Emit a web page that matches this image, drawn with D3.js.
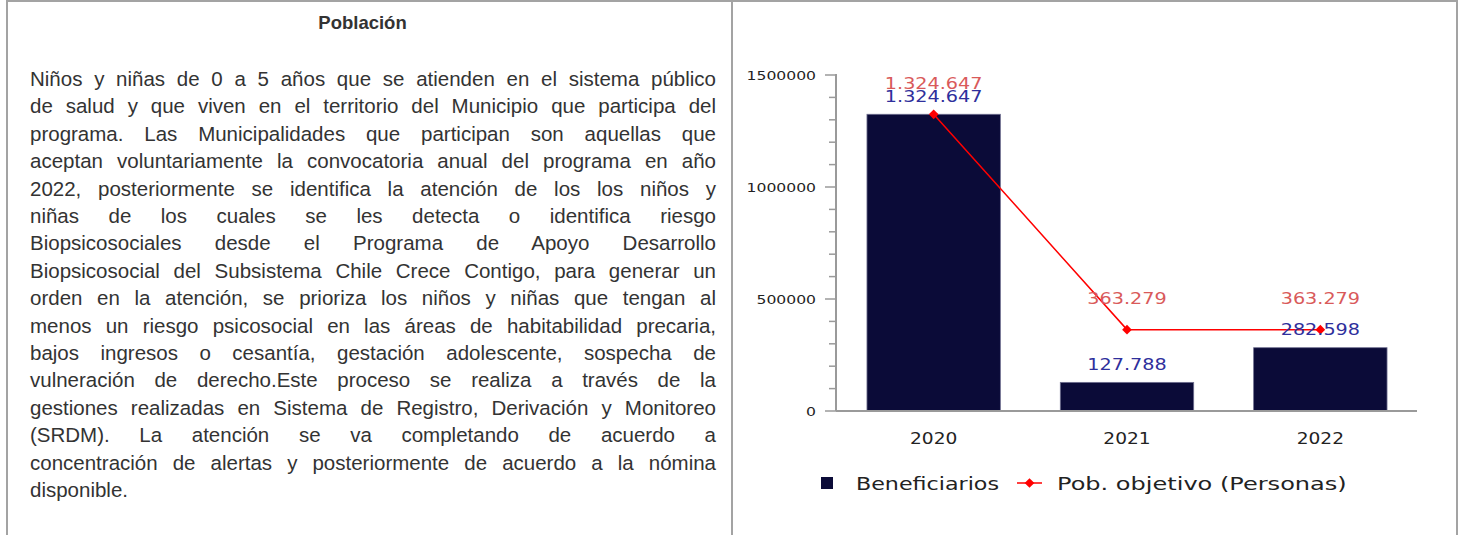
<!DOCTYPE html>
<html>
<head>
<meta charset="utf-8">
<script src="https://cdn.jsdelivr.net/npm/d3@7"></script>
<style>
  html, body { margin: 0; padding: 0; background: #fff; }
  body { width: 1460px; height: 535px; position: relative; overflow: hidden; }
  .rule { position: absolute; background: #a3a3a3; }
  #title { position: absolute; left: 0; width: 725px; top: 12px; text-align: center;
           font: bold 18.5px "Liberation Sans", Arial, sans-serif; color: #333; }
  #texto { position: absolute; left: 30px; width: 686px; top: 65px;
           font: 20.5px "Liberation Sans", Arial, sans-serif; color: #333; line-height: 27.4px; }
  #texto div { text-align: justify; text-align-last: justify; white-space: nowrap; }
  #texto div.last { text-align-last: left; }
  #chart { position: absolute; left: 0; top: 0; }
</style>
</head>
<body>
<div class="rule" style="left:6px;top:0;width:1452px;height:2px"></div>
<div class="rule" style="left:6px;top:0;width:2px;height:535px"></div>
<div class="rule" style="left:731px;top:0;width:2px;height:535px"></div>
<div class="rule" style="left:1456px;top:0;width:2px;height:535px"></div>
<div id="title">Población</div>
<div id="texto"></div>
<svg id="chart" width="1460" height="535"></svg>
<script>
// text lines of the left cell
const parrafo = [
  "Niños y niñas de 0 a 5 años que se atienden en el sistema público",
  "de salud y que viven en el territorio del Municipio que participa del",
  "programa. Las Municipalidades que participan son aquellas que",
  "aceptan voluntariamente la convocatoria anual del programa en año",
  "2022, posteriormente se identifica la atención de los los niños y",
  "niñas de los cuales se les detecta o identifica riesgo",
  "Biopsicosociales desde el Programa de Apoyo Desarrollo",
  "Biopsicosocial del Subsistema Chile Crece Contigo, para generar un",
  "orden en la atención, se prioriza los niños y niñas que tengan al",
  "menos un riesgo psicosocial en las áreas de habitabilidad precaria,",
  "bajos ingresos o cesantía, gestación adolescente, sospecha de",
  "vulneración de derecho.Este proceso se realiza a través de la",
  "gestiones realizadas en Sistema de Registro, Derivación y Monitoreo",
  "(SRDM). La atención se va completando de acuerdo a",
  "concentración de alertas y posteriormente de acuerdo a la nómina",
  "disponible."
];

// chart data
const years = ["2020", "2021", "2022"];
const beneficiarios = [1324647, 127788, 282598];
const pobObjetivo = [1324647, 363279, 363279];
const yMajor = [0, 500000, 1000000, 1500000];
const yMinor = d3.range(0, 1500001, 100000);
const legendItems = ["Beneficiarios", "Pob. objetivo (Personas)"];

d3.select("#texto").selectAll("div")
  .data(parrafo)
  .enter().append("div")
  .classed("last", (d, i) => i === parrafo.length - 1)
  .text(d => d);

const esCL = d3.formatLocale({ decimal: ",", thousands: ".", grouping: [3], currency: ["$", ""] });
const fmt = esCL.format(",d");

const barColor = "#0b0b38", lineColor = "#ff0000";
const blueText = "#2f2f9c", redText = "#d95a5a";
const axisColor = "#9a9a9a";
const font = "'DejaVu Sans', Verdana, sans-serif";

const svg = d3.select("#chart");

const x = d3.scaleBand()
  .domain(years)
  .range([837, 1417])
  .paddingInner(0.31)
  .paddingOuter(0.155);

const y = d3.scaleLinear()
  .domain([0, 1500000])
  .range([411, 75]);

// chart text looks horizontally stretched, hence the scale(sx,1)
function label(g, px, py, txt, size, color, anchor, sx) {
  return g.append("text")
    .attr("transform", `translate(${px},${py}) scale(${sx || 1.2},1)`)
    .attr("text-anchor", anchor)
    .attr("dy", "0.36em")
    .style("font-family", font)
    .style("font-size", size + "px")
    .style("fill", color)
    .text(txt);
}

// y axis
const yAxis = svg.append("g");
yAxis.append("line")
  .attr("x1", 836).attr("x2", 836)
  .attr("y1", y(1500000) - 1).attr("y2", y(0))
  .attr("stroke", axisColor).attr("stroke-width", 2);
yAxis.selectAll(".minor")
  .data(yMinor)
  .enter().append("line")
  .attr("x1", d => yMajor.includes(d) ? 825 : 829).attr("x2", 836)
  .attr("y1", d => y(d)).attr("y2", d => y(d))
  .attr("stroke", axisColor).attr("stroke-width", 1.5);
yMajor.forEach(v => label(yAxis, 816, y(v), String(v), 13, "#222", "end"));

// bars
svg.selectAll(".bar")
  .data(years)
  .enter().append("rect")
  .attr("x", d => x(d))
  .attr("width", x.bandwidth())
  .attr("y", (d, i) => y(beneficiarios[i]))
  .attr("height", (d, i) => y(0) - y(beneficiarios[i]))
  .attr("fill", barColor)
  .attr("stroke", "#6f6f8f")
  .attr("stroke-width", 0.8);

// x axis
svg.append("line")
  .attr("x1", 836).attr("x2", 1417)
  .attr("y1", y(0)).attr("y2", y(0))
  .attr("stroke", axisColor).attr("stroke-width", 2);
years.forEach(d => label(svg, x(d) + x.bandwidth() / 2, 438, d, 15.5, "#222", "middle"));

// line series
const cx = d => x(d) + x.bandwidth() / 2;
const line = d3.line()
  .x(d => cx(d[0]))
  .y(d => y(d[1]));
const pts = years.map((d, i) => [d, pobObjetivo[i]]);
svg.append("path")
  .datum(pts)
  .attr("d", line)
  .attr("fill", "none")
  .attr("stroke", lineColor)
  .attr("stroke-width", 1.5);
svg.selectAll(".pt")
  .data(pts)
  .enter().append("path")
  .attr("d", d3.symbol(d3.symbolDiamond2, 60))
  .attr("transform", d => `translate(${cx(d[0])},${y(d[1])})`)
  .attr("fill", lineColor);

// value labels
years.forEach((d, i) => {
  label(svg, cx(d), y(beneficiarios[i]) - 18, fmt(beneficiarios[i]), 16, blueText, "middle");
  label(svg, cx(d), y(pobObjetivo[i]) - 31, fmt(pobObjetivo[i]), 16, redText, "middle");
});

// legend
const lg = svg.append("g");
lg.append("rect")
  .attr("x", 821).attr("y", 477).attr("width", 12).attr("height", 12)
  .attr("fill", barColor);
label(lg, 856, 483, legendItems[0], 18.5, "#222", "start", 1.2);
lg.append("line")
  .attr("x1", 1017).attr("x2", 1042).attr("y1", 483).attr("y2", 483)
  .attr("stroke", lineColor).attr("stroke-width", 1.5);
lg.append("path")
  .attr("d", d3.symbol(d3.symbolDiamond2, 60))
  .attr("transform", "translate(1029.5,483)")
  .attr("fill", lineColor);
label(lg, 1057, 483, legendItems[1], 18.5, "#222", "start", 1.3);
</script>
</body>
</html>
